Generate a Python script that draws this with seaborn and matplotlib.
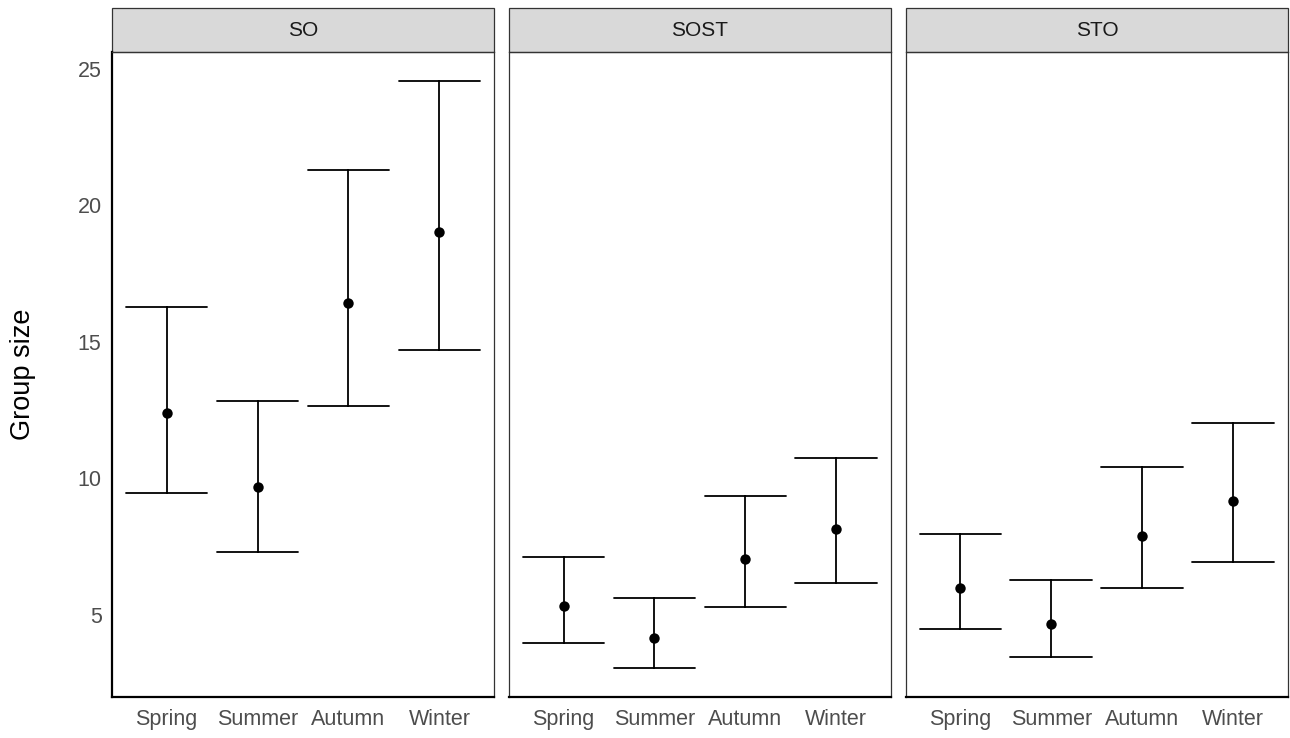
import numpy as np
import pandas as pd
import matplotlib.pyplot as plt
import seaborn as sns
from matplotlib.patches import Rectangle

# Group size per site and season: mean with lower / upper limits
sites = ["SO", "SOST", "STO"]
seasons = ["Spring", "Summer", "Autumn", "Winter"]

so_mean = [12.41, 9.69, 16.42, 19.01]
so_lower = [9.46, 7.30, 12.65, 14.71]
so_upper = [16.27, 12.84, 21.30, 24.55]

sost_mean = [5.31, 4.15, 7.04, 8.15]
sost_lower = [3.97, 3.06, 5.29, 6.16]
sost_upper = [7.11, 5.62, 9.35, 10.76]

sto_mean = [5.97, 4.66, 7.90, 9.15]
sto_lower = [4.48, 3.46, 5.97, 6.94]
sto_upper = [7.96, 6.28, 10.43, 12.02]

y_ticks = [5, 10, 15, 20, 25]

sns.set_style("white")
plt.rcParams["font.family"] = ["Liberation Sans", "DejaVu Sans"]

# long table: lower, mean, upper as three rows per cell
rows = []
for site, m, lo, up in [("SO", so_mean, so_lower, so_upper),
                        ("SOST", sost_mean, sost_lower, sost_upper),
                        ("STO", sto_mean, sto_lower, sto_upper)]:
    for i, season in enumerate(seasons):
        for v in (lo[i], m[i], up[i]):
            rows.append({"site": site, "season": season, "value": v})
df = pd.DataFrame(rows)

g = sns.FacetGrid(df, col="site", col_order=sites, sharey=True, despine=False,
                  height=6, aspect=0.6)
g.map_dataframe(sns.pointplot, x="season", y="value", order=seasons,
                estimator="median", errorbar=lambda v: (v.min(), v.max()),
                capsize=0.9, color="black", linestyle="none", markersize=7.5,
                markeredgewidth=0, err_kws={"linewidth": 1.3})

fig = g.figure
fig.set_size_inches(12.9, 7.38)
fig.subplots_adjust(left=0.0868, right=0.9984, bottom=0.0556, top=0.9295, wspace=0.039)

# ggplot style y expansion
lo_all = min(so_lower + sost_lower + sto_lower)
hi_all = max(so_upper + sost_upper + sto_upper)
pad = (hi_all - lo_all) * 0.05
strip_h = 44 / 645

for i, (ax, site) in enumerate(zip(g.axes.flat, sites)):
    ax.set_title("")
    ax.set_xlim(-0.6, 3.6)
    ax.set_ylim(lo_all - pad, hi_all + pad)
    ax.set_yticks(y_ticks)
    ax.set_xlabel("")
    ax.set_ylabel("")
    for s in ["top", "right", "left"]:
        ax.spines[s].set_color("#333333")
        ax.spines[s].set_linewidth(0.9)
    ax.spines["bottom"].set_color("black")
    ax.spines["bottom"].set_linewidth(1.6)
    ax.tick_params(axis="both", colors="#333333", labelcolor="#4d4d4d",
                   labelsize=15.5, length=4, width=1, direction="out")
    ax.tick_params(axis="x", pad=5)
    if i == 0:
        ax.spines["left"].set_color("black")
        ax.spines["left"].set_linewidth(1.6)
        ax.set_ylabel("Group size", fontsize=19.5, color="black")
        ax.yaxis.set_label_coords(-0.2, 0.5)
    else:
        ax.tick_params(axis="y", left=False, labelleft=False)
    ax.add_patch(Rectangle((0, 1), 1, strip_h, transform=ax.transAxes, clip_on=False,
                           facecolor="#d9d9d9", edgecolor="#333333", linewidth=0.9))
    ax.text(0.5, 1 + strip_h / 2, site, transform=ax.transAxes, ha="center",
            va="center", fontsize=15, color="#1a1a1a")

fig.savefig("out.png", dpi=100)
